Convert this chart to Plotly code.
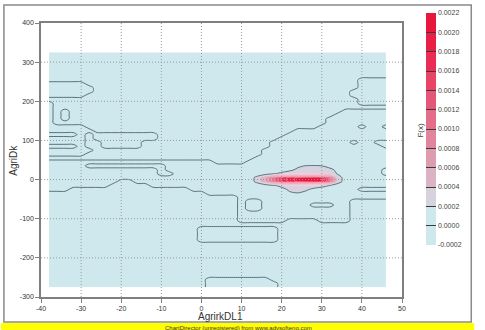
import numpy as np
import plotly.graph_objects as go

# ---------------- data ----------------
X_GRID = [-38, -36, -34, -32, -30, -28, -26, -24, -22, -20, -18, -16, -14, -12, -10,
          -8, -6, -4, -2, 0, 2, 4, 6, 8, 10, 12, 14, 16, 18, 20, 22, 24, 26, 28, 30,
          32, 34, 36, 38, 40, 42, 44, 46]
Y_GRID = [325, 315, 305, 295, 285, 275, 265, 255, 245, 235, 225, 215, 205, 195, 185,
          175, 165, 155, 145, 135, 125, 115, 105, 95, 85, 75, 65, 55, 45, 35, 25, 15,
          5, -5, -15, -25, -35, -45, -55, -65, -75, -85, -95, -105, -115, -125, -135,
          -145, -155, -165, -175, -185, -195, -205, -215, -225, -235, -245, -255, -265,
          -275]

# sign of the near-zero background surface, run-length coded per row ('+' tiny positive, '.' tiny negative)
NOISE_ROWS = [
    "43.", "43.", "43.", "43.", "43.", "43.", "43.",
    "39. 4+",
    "5+ 34. 4+",
    "6+ 33. 4+",
    "6+ 32. 5+",
    "5+ 33. 5+",
    "39. 4+",
    "1+ 38. 4+",
    "1+ 42.",
    "1+ 1. 1+ 34. 6+",
    "1+ 1. 1+ 33. 7+",
    "1+ 1. 1+ 32. 8+",
    "1+ 34. 8+",
    "5+ 29. 5+ 1. 2+ 1.",
    "6+ 25. 12+",
    "4. 1+ 1. 8+ 16. 13+",
    "5+ 1. 8+ 15. 14+",
    "5+ 2. 5+ 16. 10+ 1. 2+ 2.",
    "4. 1+ 2. 5+ 16. 14+ 1.",
    "6+ 21. 16+",
    "5+ 22. 16+",
    "26. 17+",
    "21+ 4. 18+",
    "5+ 10. 28+",
    "14+ 1. 27+ 1.",
    "14+ 2. 26+ 1.",
    "43+",
    "9+ 2. 32+",
    "8+ 5. 30+",
    "3+ 15. 21+ 4.",
    "20. 23+",
    "24. 19+",
    "24. 1+ 2. 11+ 5.",
    "24. 1+ 2. 6+ 3. 2+ 5.",
    "24. 1+ 2. 11+ 5.",
    "24. 14+ 5.",
    "24. 14+ 5.",
    "24. 6+ 4. 4+ 5.",
    "43.",
    "19. 10+ 14.",
    "19. 10+ 14.",
    "19. 10+ 14.",
    "19. 10+ 14.",
    "43.", "43.", "43.", "43.", "43.", "43.", "43.", "43.", "43.",
    "20. 8+ 15.",
    "20. 9+ 14.",
    "20. 9+ 14.",
]
NOISE_LEVEL = 1e-6

# the density peak, values in units of 1e-4
PEAK_X = [12, 14, 16, 18, 20, 22, 24, 26, 28, 30, 32, 34, 36, 38]
PEAK_Y = [35, 25, 15, 5, -5, -15, -25, -35]
PEAK_VALUES = [
    [0, 0, 0, 0, 0.2, 0.8, 1.6, 2.1, 2.2, 2.0, 1.2, 0.3, 0, 0],
    [0, 0, 0, 0.3, 0.8, 1.5, 2.4, 3.0, 3.3, 3.3, 2.6, 1.4, 0.3, 0],
    [0, 0.3, 1.0, 1.8, 2.6, 3.2, 3.6, 3.8, 3.9, 3.7, 3.1, 1.8, 0.5, 0],
    [0.6, 3.0, 6.0, 11.0, 16.0, 19.0, 20.5, 21.5, 21.8, 20.0, 12.0, 3.0, 1.0, 0],
    [0.6, 3.0, 6.0, 11.0, 16.0, 19.0, 20.5, 21.5, 21.8, 20.0, 12.0, 3.0, 1.0, 0],
    [0, 0.3, 1.0, 1.8, 2.7, 3.3, 3.6, 3.6, 3.3, 2.9, 2.0, 1.0, 0, 0],
    [0, 0, 0, 0.2, 1.2, 2.5, 2.8, 2.4, 1.5, 0.8, 0.3, 0, 0, 0],
    [0, 0, 0, 0, 0.5, 1.6, 1.9, 1.4, 0.3, 0, 0, 0, 0, 0],
]
PEAK_UNIT = 1e-4

LEVEL_START, LEVEL_END, LEVEL_SIZE = -0.0002, 0.0022, 0.0002
CB_TICKS = [-0.0002, 0.0, 0.0002, 0.0004, 0.0006, 0.0008, 0.0010, 0.0012, 0.0014,
            0.0016, 0.0018, 0.0020, 0.0022]
CB_LABELS = ["-0.0002", "0.0000", "0.0002", "0.0004", "0.0006", "0.0008", "0.0010",
             "0.0012", "0.0014", "0.0016", "0.0018", "0.0020", "0.0022"]
# colour of each band between consecutive CB_TICKS (bottom to top)
BAND_COLORS = ["#cfe8ee", "#cfe8ee", "#d7d2dd", "#dab3c5", "#dd9db0", "#e0859c",
               "#e46e8a", "#e65777", "#e94366", "#eb2d55", "#ea1f48", "#e8173e"]

X_TICKS = [-40, -30, -20, -10, 0, 10, 20, 30, 40, 50]
X_LABELS = ["-40", "-30", "-20", "-10", "0", "10", "20", "30", "40", "50"]
Y_TICKS = [-300, -200, -100, 0, 100, 200, 300, 400]
Y_LABELS = ["-300", "-200", "-100", "0", "100", "200", "300", "400"]

# ---------------- build surface ----------------
def decode(row):
    out = []
    for tok in row.split():
        n, ch = int(tok[:-1]), tok[-1]
        out.extend([NOISE_LEVEL if ch == "+" else -NOISE_LEVEL] * n)
    assert len(out) == len(X_GRID), row
    return out

z = np.array([decode(r) for r in NOISE_ROWS], dtype=float)
assert z.shape == (len(Y_GRID), len(X_GRID))
for yv, vals in zip(PEAK_Y, PEAK_VALUES):
    r = Y_GRID.index(yv)
    for xv, v in zip(PEAK_X, vals):
        z[r, X_GRID.index(xv)] += v * PEAK_UNIT

y_arr = Y_GRID[::-1]
z = z[::-1]

# low levels (0 and 0.0002): background bands with dark outlines
low_levels = [CB_TICKS[1], CB_TICKS[2]]
low_scale = [[0.0, BAND_COLORS[0]], [0.5, BAND_COLORS[1]], [1.0, BAND_COLORS[2]]]
# upper levels (0.0004 .. 0.0022): peak bands, drawn on top
up_levels = CB_TICKS[3:]
n_up = len(up_levels)
up_colors = ["rgba(0,0,0,0)"] + BAND_COLORS[3:] + [BAND_COLORS[-1]]
up_scale = [[i / n_up, c] for i, c in enumerate(up_colors)]

# colour bar scale: discrete bands
nb = len(BAND_COLORS)
cb_scale = []
for k, c in enumerate(BAND_COLORS):
    cb_scale.append([k / nb, c])
    cb_scale.append([(k + 1) / nb, c])

# ---------------- layout helpers ----------------
W, H = 485, 330
L, R, T, B = 41, 74, 23, 33
PW, PH = W - L - R, H - T - B
def px(xp):
    return (xp - L) / PW
def py(yp):
    return (H - B - yp) / PH

fig = go.Figure()
fig.add_trace(go.Contour(
    x=X_GRID, y=y_arr, z=z,
    autocontour=False,
    contours=dict(start=low_levels[0], end=low_levels[-1], size=LEVEL_SIZE,
                  coloring="fill", showlines=True),
    line=dict(color="#4d6670", width=0.9, smoothing=0.8),
    colorscale=low_scale, showscale=False,
    hoverinfo="skip",
))
fig.add_trace(go.Contour(
    x=X_GRID, y=y_arr, z=z,
    autocontour=False,
    contours=dict(start=up_levels[0], end=up_levels[-1], size=LEVEL_SIZE,
                  coloring="fill", showlines=True),
    line=dict(color="rgba(255,230,238,0.5)", width=0.7, smoothing=1),
    colorscale=up_scale, showscale=False,
    hoverinfo="skip",
))
# colour bar
fig.add_trace(go.Scatter(
    x=[None], y=[None], mode="markers", hoverinfo="skip", showlegend=False,
    marker=dict(
        color=[LEVEL_START], cmin=LEVEL_START, cmax=LEVEL_END, colorscale=cb_scale,
        showscale=True,
        colorbar=dict(
            x=px(436), xanchor="left", xpad=0,
            thickness=10, thicknessmode="pixels",
            len=232, lenmode="pixels",
            y=py(129), yanchor="middle", ypad=0,
            tickvals=CB_TICKS, ticktext=CB_LABELS,
            ticks="inside", ticklen=10, tickcolor="#3a3a3a", tickwidth=1,
            tickfont=dict(size=7, color="#444", family="Liberation Sans, Arial"),
            outlinewidth=0,
        ),
    ),
))

shapes = []
for xv in X_TICKS[1:-1]:
    shapes.append(dict(type="line", xref="x", yref="paper", x0=xv, x1=xv, y0=0, y1=1,
                       line=dict(color="#9a9a9a", width=1, dash="1px,2px"), layer="above"))
for yv in Y_TICKS[1:-1]:
    shapes.append(dict(type="line", xref="paper", yref="y", x0=0, x1=1, y0=yv, y1=yv,
                       line=dict(color="#9a9a9a", width=1, dash="1px,2px"), layer="above"))
# yellow footer band and outer frame
shapes.append(dict(type="rect", xref="paper", yref="paper", x0=px(0), x1=px(W),
                   y0=py(H), y1=py(323), fillcolor="#ffff00", line=dict(width=0), layer="below"))
shapes.append(dict(type="rect", xref="paper", yref="paper", x0=px(3), x1=px(482),
                   y0=py(322), y1=py(5), line=dict(color="#8a8a8a", width=1.5), layer="below"))

axis_common = dict(showgrid=False, zeroline=False, showline=True, mirror=True,
                   linecolor="#7f7f7f", linewidth=1.5, ticks="outside", ticklen=4,
                   tickcolor="#7f7f7f",
                   tickfont=dict(size=7, color="#333", family="Liberation Sans, Arial"))

fig.update_layout(
    width=W, height=H, autosize=False,
    margin=dict(l=L, r=R, t=T, b=B),
    paper_bgcolor="white", plot_bgcolor="white",
    xaxis=dict(range=[-40, 50], tickvals=X_TICKS, ticktext=X_LABELS, **axis_common),
    yaxis=dict(range=[-300, 400], tickvals=Y_TICKS, ticktext=Y_LABELS, **axis_common),
    shapes=shapes,
    showlegend=False,
    annotations=[
        dict(text="AgrirkDL1", x=px(225), y=py(316), xref="paper", yref="paper",
             showarrow=False, xanchor="center", yanchor="middle",
             font=dict(size=10, color="#333", family="Liberation Sans, Arial")),
        dict(text="AgriDk", x=px(12), y=py(160), xref="paper", yref="paper",
             showarrow=False, textangle=-90, xanchor="center", yanchor="middle",
             font=dict(size=10, color="#333", family="Liberation Sans, Arial")),
        dict(text="F(x)", x=px(429), y=py(130), xref="paper", yref="paper",
             showarrow=False, textangle=-90, xanchor="center", yanchor="middle",
             font=dict(size=8, color="#444", family="Liberation Sans, Arial")),
        dict(text="ChartDirector (unregistered) from www.advsofteng.com",
             x=px(243), y=py(328), xref="paper", yref="paper",
             showarrow=False, xanchor="center", yanchor="middle",
             font=dict(size=6, color="#333", family="Liberation Sans, Arial")),
    ],
)

fig.write_html("out.html")
